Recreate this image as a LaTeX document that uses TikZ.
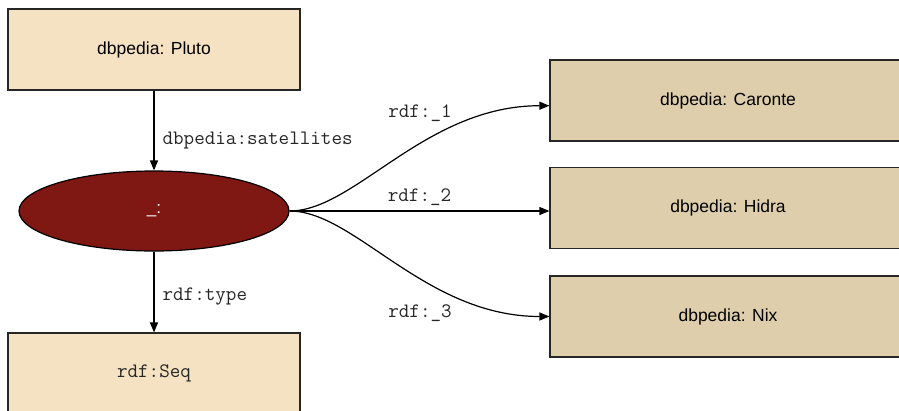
\documentclass[tikz,border=0pt]{standalone}
\usepackage{fontspec}
\setmainfont{Liberation Sans}
\usetikzlibrary{arrows.meta,shapes.geometric}
\definecolor{lightbox}{RGB}{245,226,194}
\definecolor{darkbox}{RGB}{222,206,171}
\definecolor{bnode}{RGB}{127,23,18}
\begin{document}
\begin{tikzpicture}[x=1pt,y=-1pt,
  box/.style={draw=black!85, line width=1.2pt, rectangle, minimum width=292pt, minimum height=81pt, inner sep=0pt, font=\fontsize{17.5}{20}\selectfont},
  rbox/.style={box, fill=darkbox, minimum width=356pt},
  mono/.style={font=\ttfamily\fontsize{20.5}{23}\selectfont, text=black!85},
  lab/.style={mono, inner sep=0pt},
  arr/.style={line width=1.2pt, -{Triangle[length=10pt,width=8pt]}}]
\useasboundingbox (0,0) rectangle (899,410);
\clip (0,0) rectangle (899,410);
\node[box, fill=lightbox] (pluto) at (154,49.5) {dbpedia: Pluto};
\node[ellipse, draw=black, line width=1.2pt, fill=bnode, minimum width=270pt, minimum height=80pt, inner sep=0pt, text=white, font=\fontsize{17}{20}\selectfont] (bn) at (154,211) {\_:};
\node[box, fill=lightbox, mono] (seq) at (154,373.5) {rdf:Seq};
\node[rbox] (car) at (728,100.5) {dbpedia: Caronte};
\node[rbox] (hid) at (728,208.3) {dbpedia: Hidra};
\node[rbox] (nix) at (728,316.5) {dbpedia: Nix};
\draw[arr] (pluto) -- (bn) node[midway, right=8pt, yshift=-10pt, lab] {dbpedia:satellites};
\draw[arr] (bn) -- (seq) node[midway, right=8pt, yshift=-4.5pt, lab] {rdf:type};
\draw[arr] (bn.east) .. controls (355,211) and (425,105.7) .. ([yshift=-5.2pt]car.west);
\draw[arr] (bn.east) -- (hid.west |- bn.east) node[pos=0.5, above=4.5pt, lab] {rdf:\_2};
\draw[arr] (bn.east) .. controls (355,211) and (425,316.5) .. (nix.west);
\node[lab] (l1) at (420,113) {rdf:\_1};
\node[lab] (l3) at (420,313) {rdf:\_3};
\end{tikzpicture}
\end{document}
